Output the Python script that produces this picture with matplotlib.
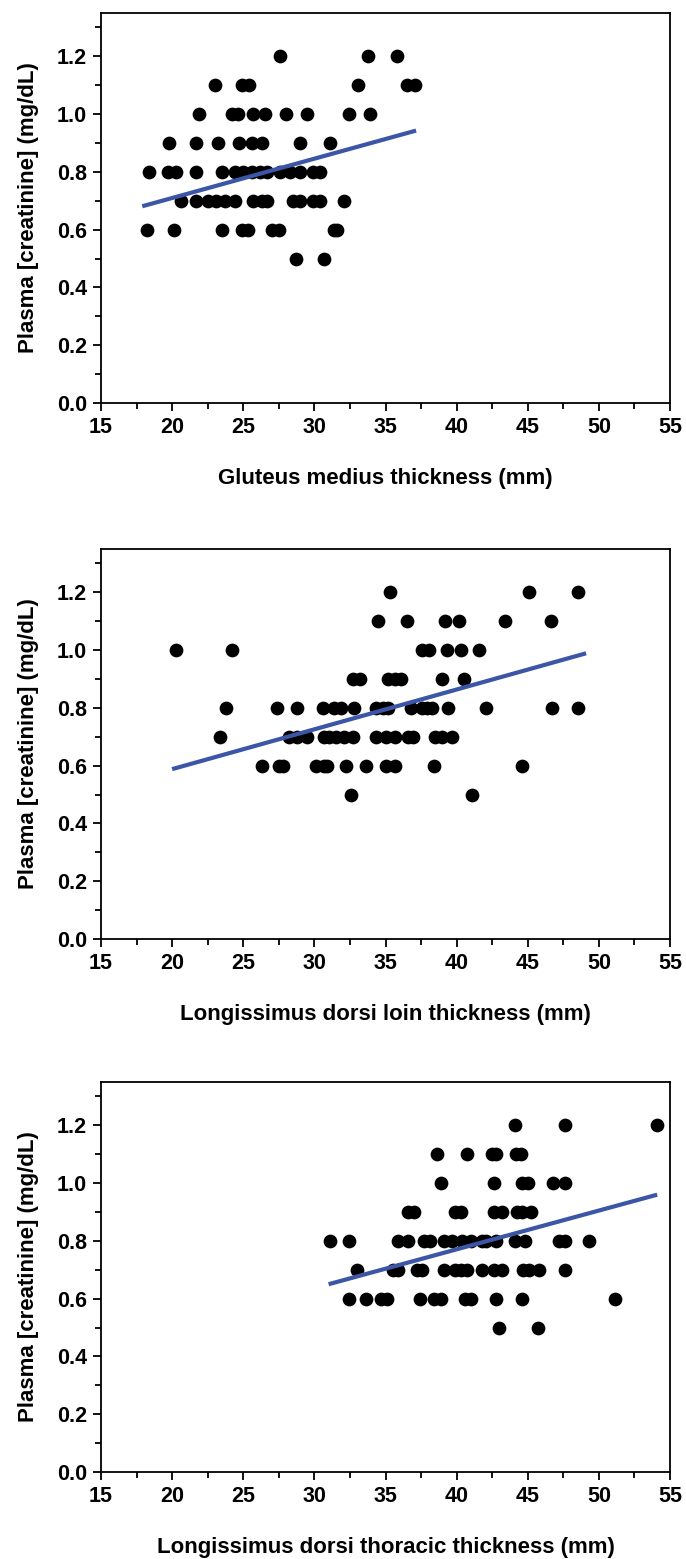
import matplotlib.pyplot as plt
from matplotlib.ticker import MultipleLocator

plt.rcParams['font.family'] = ['Liberation Sans', 'DejaVu Sans']
plt.rcParams['font.weight'] = 'bold'

# creatinine levels (mg/dL), each with the thickness values (mm) read per row
levels = [1.2, 1.1, 1.0, 0.9, 0.8, 0.7, 0.6, 0.5]

gluteus_rows = [
    [27.6, 33.8, 35.8],
    [23.0, 24.9, 25.4, 33.1, 36.5, 37.1],
    [21.9, 24.2, 24.6, 25.7, 26.5, 28.0, 29.5, 32.4, 33.9],
    [19.8, 21.7, 23.2, 24.7, 25.6, 26.3, 29.0, 31.1],
    [18.4, 19.7, 20.3, 21.7, 23.5, 24.4, 25.0, 25.6, 26.2, 26.7, 27.6, 28.3,
     29.0, 29.9, 30.4],
    [20.6, 21.7, 22.5, 23.1, 23.7, 24.4, 25.7, 26.3, 26.7, 28.5, 29.0, 29.9,
     30.4, 32.1],
    [18.2, 20.1, 23.5, 24.9, 25.3, 27.0, 27.5, 31.4, 31.6],
    [28.7, 30.7],
]

loin_rows = [
    [35.3, 45.1, 48.5],
    [34.5, 36.5, 39.2, 40.2, 43.4, 46.6],
    [20.3, 24.2, 37.6, 38.05, 39.3, 40.3, 41.6],
    [32.7, 33.2, 35.2, 35.7, 36.1, 39.0, 40.5],
    [23.8, 27.4, 28.8, 30.6, 31.4, 31.9, 32.8, 34.3, 34.8, 35.2, 36.8, 37.6,
     37.9, 38.3, 39.4, 42.1, 46.7, 48.5],
    [23.4, 28.2, 28.8, 29.5, 30.7, 31.0, 31.5, 32.1, 32.7, 34.3, 35.0, 35.7,
     36.6, 36.9, 38.5, 39.0, 39.7],
    [26.3, 27.5, 27.8, 30.1, 30.7, 30.9, 32.2, 33.6, 35.0, 35.7, 38.4, 44.6],
    [32.6, 41.1],
]

thoracic_rows = [
    [44.1, 47.6, 54.1],
    [38.6, 40.7, 42.5, 42.8, 44.2, 44.5],
    [38.9, 42.6, 44.6, 45.0, 46.8, 47.6],
    [36.6, 37.0, 39.9, 40.3, 42.6, 43.2, 44.25, 44.6, 45.2],
    [31.1, 32.4, 35.9, 36.6, 37.7, 38.1, 39.1, 39.7, 40.4, 41.0, 41.8, 42.1,
     42.8, 44.1, 44.8, 47.2, 47.6, 49.3],
    [33.0, 35.5, 35.9, 37.2, 37.6, 39.1, 39.9, 40.3, 40.7, 41.75, 42.6, 43.2,
     44.7, 45.1, 45.8, 47.6],
    [32.4, 33.6, 34.7, 35.1, 37.4, 38.4, 38.9, 40.6, 41.0, 42.8, 44.6, 51.1],
    [43.0, 45.7],
]

# regression line end points
gluteus_fit_x = [17.9, 37.15]
gluteus_fit_y = [0.681, 0.943]
loin_fit_x = [20.0, 49.1]
loin_fit_y = [0.588, 0.989]
thoracic_fit_x = [31.0, 54.1]
thoracic_fit_y = [0.65, 0.96]

x_labels = ["Gluteus medius thickness (mm)",
            "Longissimus dorsi loin thickness (mm)",
            "Longissimus dorsi thoracic thickness (mm)"]
y_label = "Plasma [creatinine] (mg/dL)"


def flatten(rows):
    xs, ys = [], []
    for lvl, row in zip(levels, rows):
        for v in row:
            xs.append(v)
            ys.append(lvl)
    return xs, ys


def draw_panel(ax, rows, fit_x, fit_y, xlabel):
    xs, ys = flatten(rows)
    ax.scatter(xs, ys, s=98, color="black", linewidths=0, zorder=3)
    ax.plot(fit_x, fit_y, color="#3b56a6", linewidth=3, zorder=4,
            solid_capstyle="butt")

    ax.set_xlim(15, 55)
    ax.set_ylim(0, 1.35)
    ax.xaxis.set_major_locator(MultipleLocator(5))
    ax.xaxis.set_minor_locator(MultipleLocator(2.5))
    ax.yaxis.set_major_locator(MultipleLocator(0.2))
    ax.yaxis.set_minor_locator(MultipleLocator(0.1))
    ax.yaxis.set_major_formatter(lambda v, p: "%.1f" % v)

    ax.tick_params(which="both", direction="out", width=1.3, top=False,
                   right=False, labelsize=15.5, pad=4)
    ax.tick_params(which="major", length=6)
    ax.tick_params(which="minor", length=4)
    for lab in ax.get_xticklabels() + ax.get_yticklabels():
        lab.set_fontweight("bold")
    for sp in ax.spines.values():
        sp.set_linewidth(1.3)

    ax.set_xlabel(xlabel, fontsize=16, fontweight="bold", labelpad=22)
    ax.set_ylabel(y_label, fontsize=16, fontweight="bold", labelpad=13)


fig = plt.figure(figsize=(6.86, 15.59), dpi=100)
left = 101 / 686
width = 569 / 686
height = 390 / 1559
bottoms = [1 - 403 / 1559, 1 - 939 / 1559, 1 - 1472 / 1559]

all_rows = [gluteus_rows, loin_rows, thoracic_rows]
all_fx = [gluteus_fit_x, loin_fit_x, thoracic_fit_x]
all_fy = [gluteus_fit_y, loin_fit_y, thoracic_fit_y]

for i in range(3):
    ax = fig.add_axes([left, bottoms[i], width, height])
    draw_panel(ax, all_rows[i], all_fx[i], all_fy[i], x_labels[i])

fig.savefig("out.png", dpi=100)
